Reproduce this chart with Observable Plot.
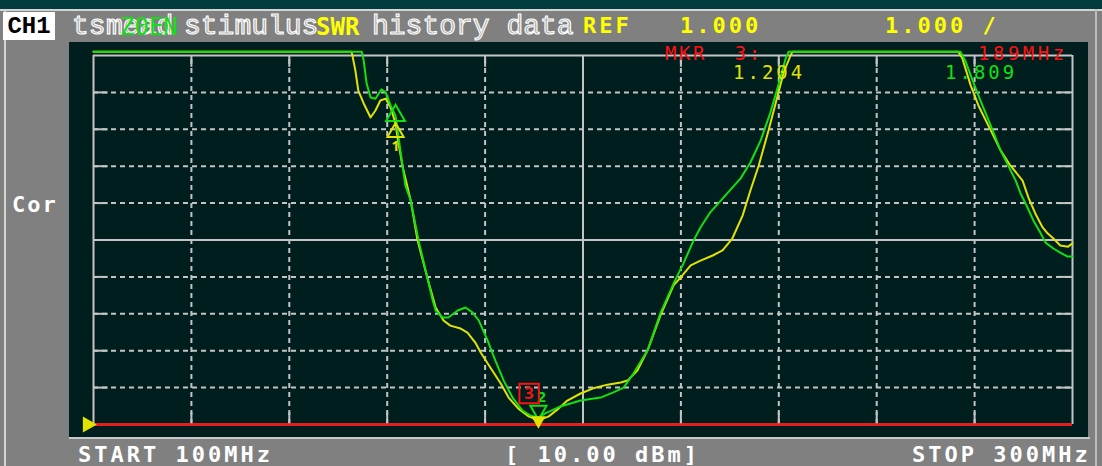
<!DOCTYPE html>
<html><head><meta charset="utf-8">
<script src="https://cdn.jsdelivr.net/npm/d3@7"></script>
<script src="https://cdn.jsdelivr.net/npm/@observablehq/plot@0.6"></script>
<style>
html,body{margin:0;padding:0;}
body{width:1102px;height:466px;background:#808080;position:relative;overflow:hidden;font-family:"DejaVu Sans Mono",monospace;}
.abs{position:absolute;white-space:pre;line-height:1;}
.hollow{font-family:"Liberation Mono",monospace;font-size:28px;color:#a8a8a8;-webkit-text-stroke:1.1px #ffffff;}
#chart{position:absolute;left:69px;top:42px;}
</style></head>
<body>
<div class="abs" style="left:0;top:0;width:1102px;height:9px;background:#033c3f"></div>
<div class="abs" style="left:0;top:9px;width:1102px;height:2px;background:#d4d4d4"></div>
<div class="abs" style="left:4px;top:9px;width:2px;height:457px;background:#d4d4d4"></div>
<div class="abs" style="left:1095px;top:9px;width:2px;height:457px;background:#bcbcbc"></div>
<div class="abs" style="left:69px;top:437px;width:1021px;height:2px;background:#c8c8c8"></div>
<div id="chart"></div>
<div id="texts"></div>
<script>
// ---- data (frequency MHz, SWR); 11.1 = clipped at top of screen
const greenTrace = [[100,11.1],[154.8,11.1],[155.2,10.86],[155.8,10.24],[156.6,9.86],[157.6,9.83],[158.8,10.08],[159.7,10.0],[160.7,9.64],[161.7,9.37],[162.7,8.43],[163.7,7.48],[164.8,7.07],[166.4,5.99],[168.2,4.98],[169.3,4.36],[169.9,4.09],[171.3,3.90],[172.5,3.90],[174.4,4.09],[176.0,4.17],[177.4,4.04],[178.7,3.82],[180.5,3.28],[182.1,2.73],[183.8,2.19],[185.6,1.73],[187.6,1.38],[189.3,1.24],[190.9,1.19],[192.3,1.30],[195.4,1.49],[199.5,1.65],[203.6,1.73],[206.2,1.87],[208.3,2.00],[210.3,2.38],[213.2,3.01],[215.8,4.01],[218.5,4.82],[220.5,5.36],[222.6,5.99],[224.0,6.34],[226.0,6.75],[229.1,7.21],[232.2,7.67],[234.2,8.10],[236.3,8.70],[238.3,9.46],[239.9,10.19],[241.4,10.92],[242.0,11.1],[277.1,11.1],[278.1,10.86],[279.6,10.32],[281.2,9.78],[283.3,9.10],[285.3,8.43],[288.4,7.61],[289.4,7.26],[290.8,6.88],[292.0,6.53],[293.5,6.18],[294.5,5.93],[296.1,5.77],[297.5,5.66],[299.0,5.55],[300,5.55]];
const yellowTrace = [[100,11.1],[152.7,11.1],[152.9,11.0],[153.5,10.59],[154.1,10.05],[155.2,9.70],[156.6,9.32],[157.6,9.51],[158.6,9.78],[159.7,9.83],[160.7,9.59],[161.7,9.16],[162.1,8.78],[163.1,8.02],[164.8,7.07],[166.2,5.99],[168.2,4.98],[169.9,4.17],[171.5,3.82],[172.9,3.68],[175.0,3.60],[176.4,3.49],[178.0,3.22],[179.1,2.95],[181.1,2.54],[183.2,2.11],[184.8,1.73],[186.8,1.43],[188.9,1.22],[190.9,1.11],[193.0,1.22],[195.0,1.43],[196.8,1.65],[199.5,1.84],[202.1,1.98],[205.0,2.08],[207.7,2.14],[209.1,2.19],[211.1,2.46],[213.2,3.01],[215.8,3.95],[218.5,4.77],[219.9,4.98],[222.0,5.31],[224.0,5.44],[226.5,5.58],[228.5,5.72],[230.5,6.04],[232.6,6.66],[234.2,7.34],[235.9,8.02],[237.9,8.97],[239.5,9.78],[241.0,10.54],[242.4,11.0],[242.8,11.1],[276.7,11.1],[277.5,10.92],[279.2,10.19],[280.8,9.64],[283.3,8.97],[285.3,8.43],[287.3,8.02],[289.8,7.61],[291.0,7.15],[292.4,6.72],[293.9,6.34],[294.9,6.18],[296.1,6.04],[297.5,5.85],[299.1,5.82],[300,5.91]];
const startFreq = 100, stopFreq = 300;
const refValue = 1, perDiv = 1, divisions = 10;
const dashedX = [120,140,160,180,220,240,260,280];
const solidX = [100,200,300];
const dashedY = [2,3,4,5,7,8,9,10];
const solidY = [1,6,11];
// markers: [freq, swr, label]
const greenMarkers = [[161.7,9.37,""],[190.9,1.38,"2"]];
const yellowMarkers = [[161.7,8.92,"1"],[190.9,1.11,""]];
const activeMarker = [[189.0,1.84,"3"]];
// header/footer texts
const chLabel = "CH1";
const headerWhite = [["ts",72],["mead",106],["stimulus",184],["history data",372]];
const headerGreen = "Z0EN";
const headerYellow = "SWR";
const refTexts = [["REF",583],["1.000",680],["1.000 /",885]];
const mkrLabel = "MKR  3:", mkrFreq = "189MHz";
const mkrYellowVal = "1.204", mkrGreenVal = "1.809";
const sideLabel = "Cor";
const footer = [["START 100MHz",78],["[ 10.00 dBm]",505],["STOP 300MHz",912]];

const GREEN = "#12e012", YELLOW = "#e2e200", RED = "#ff1010", GRID = "#c4c4c4";
const yTop = refValue + perDiv*divisions;
const tx = 3, ty = 0.32;
const pts = a => a.map(([f,v,l]) => ({f, v, l}));

const chart = Plot.plot({
  width: 1019, height: 395,
  marginLeft: 24, marginRight: 16, marginTop: 13, marginBottom: 13,
  x: {domain: [startFreq, stopFreq], axis: null},
  y: {domain: [refValue, yTop], axis: null},
  style: {background: "#001e1e", overflow: "visible"},
  marks: [
    Plot.ruleX(dashedX, {x: d => d, y1: refValue, y2: yTop, stroke: GRID, strokeWidth: 2, strokeDasharray: "5,4"}),
    Plot.ruleX(dashedX, {x: d => d, y1: refValue, y2: refValue + ty, stroke: GRID, strokeWidth: 2}),
    Plot.ruleX(dashedX, {x: d => d, y1: yTop - ty, y2: yTop, stroke: GRID, strokeWidth: 2}),
    Plot.ruleY(dashedY, {y: d => d, x1: startFreq, x2: stopFreq, stroke: GRID, strokeWidth: 2, strokeDasharray: "5,4"}),
    Plot.ruleY(dashedY, {y: d => d, x1: startFreq, x2: startFreq + tx, stroke: GRID, strokeWidth: 2}),
    Plot.ruleY(dashedY, {y: d => d, x1: stopFreq - tx, x2: stopFreq, stroke: GRID, strokeWidth: 2}),
    Plot.ruleX(solidX, {x: d => d, y1: refValue, y2: yTop, stroke: GRID, strokeWidth: 2}),
    Plot.ruleY(solidY, {y: d => d, x1: startFreq, x2: stopFreq, stroke: GRID, strokeWidth: 2}),
    Plot.ruleY([refValue], {y: d => d, x1: startFreq, x2: stopFreq, stroke: RED, strokeWidth: 2.5}),
    Plot.dot([refValue], {x: startFreq, y: d => d, symbol: "triangle", rotate: 90, r: 5, fill: YELLOW, stroke: YELLOW, dx: -6}),
    Plot.line(yellowTrace, {x: d => d[0], y: d => d[1], stroke: YELLOW, strokeWidth: 2, curve: "linear"}),
    Plot.line(greenTrace, {x: d => d[0], y: d => d[1], stroke: GREEN, strokeWidth: 2, curve: "linear"}),
    Plot.dot(pts(greenMarkers).slice(0,1), {x: "f", y: "v", symbol: "triangle", r: 7, stroke: GREEN, strokeWidth: 2, fill: "none"}),
    Plot.dot(pts(yellowMarkers).slice(0,1), {x: "f", y: "v", symbol: "triangle", r: 6, stroke: YELLOW, strokeWidth: 2, fill: "none"}),
    Plot.text(pts(yellowMarkers).slice(0,1), {x: "f", y: "v", text: "l", dy: 14, fill: YELLOW, fontSize: 14, fontWeight: "bold"}),
    Plot.dot(pts(greenMarkers).slice(1), {x: "f", y: "v", symbol: "triangle", rotate: 180, r: 6, stroke: GREEN, strokeWidth: 2, fill: "none"}),
    Plot.dot(pts(yellowMarkers).slice(1), {x: "f", y: "v", symbol: "triangle", rotate: 180, r: 4, stroke: YELLOW, strokeWidth: 2, fill: YELLOW}),
    Plot.text(pts(greenMarkers).slice(1), {x: "f", y: "v", text: "l", dy: -13, dx: 3, fill: GREEN, fontSize: 15, fontWeight: "bold"}),
    Plot.dot(pts(activeMarker), {x: "f", y: "v", symbol: "square", r: 11, stroke: RED, strokeWidth: 2, fill: "none"}),
    Plot.text(pts(activeMarker), {x: "f", y: "v", text: "l", fill: RED, fontSize: 16, fontWeight: "bold"})
  ]
});
document.getElementById("chart").appendChild(chart);

const T = document.getElementById("texts");
function add(txt, css) { const d = document.createElement("div"); d.className = "abs"; d.textContent = txt; d.style.cssText += css; T.appendChild(d); return d; }
add(chLabel, "left:3px;top:12px;width:52px;height:28px;background:#fff;color:#000;font-family:'Liberation Mono';font-size:24px;font-weight:bold;text-align:center;line-height:30px;");
for (const [s, x] of headerWhite) { const d = add(s, `left:${x}px;top:13px;`); d.classList.add("hollow"); }
add(headerGreen, `left:120px;top:15px;color:${GREEN};font-size:24px;`);
add(headerYellow, `left:316px;top:15px;color:#ffff00;font-size:24px;font-weight:bold;`);
for (const [s, x] of refTexts) add(s, `left:${x}px;top:15px;color:#ffff00;font-size:22px;font-weight:bold;letter-spacing:3px;`);
add(mkrLabel, `left:665px;top:44px;color:${RED};font-size:19px;letter-spacing:2.5px;`);
add(mkrFreq, `left:978px;top:44px;color:${RED};font-size:19px;letter-spacing:3.5px;`);
add(mkrYellowVal, `left:733px;top:63px;color:${YELLOW};font-size:19px;letter-spacing:3px;`);
add(mkrGreenVal, `left:945px;top:63px;color:${GREEN};font-size:19px;letter-spacing:3px;`);
add(sideLabel, `left:12px;top:194px;color:#fff;font-size:22px;font-weight:bold;letter-spacing:2px;`);
for (const [s, x] of footer) add(s, `left:${x}px;top:444px;color:#fff;font-size:22px;font-weight:bold;letter-spacing:3px;`);
</script>
</body></html>
